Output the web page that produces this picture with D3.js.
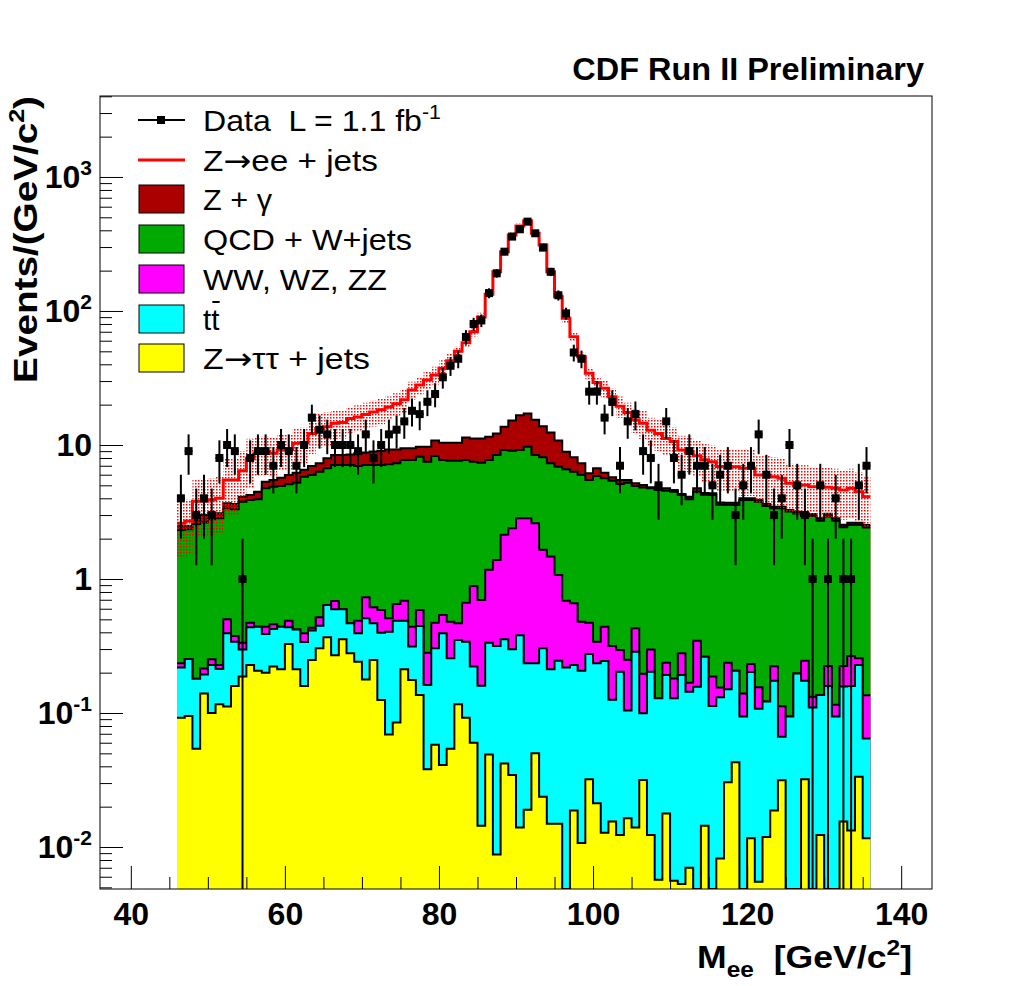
<!DOCTYPE html>
<html>
<head>
<meta charset="utf-8">
<script src="https://cdn.jsdelivr.net/npm/d3@7"></script>
<style>
  body { margin: 0; background: #fff; }
  svg { display: block; font-family: "Liberation Sans", Arial, Helvetica, sans-serif; }
</style>
</head>
<body>
<div id="chart"></div>
<script>
// M_ee histogram, 1 GeV/c^2 bins starting at 46
var massLow = 46;

var ztautau = [
  0.092, 0.095, 0.054, 0.14, 0.10, 0.116, 0.112, 0.159, 0.187, 0.228,
  0.207, 0.20, 0.222, 0.212, 0.327, 0.212, 0.159, 0.249, 0.304, 0.367,
  0.27, 0.355, 0.279, 0.241, 0.178, 0.249, 0.125, 0.069, 0.085, 0.212,
  0.176, 0.136, 0.038, 0.058, 0.041, 0.054, 0.116, 0.092, 0.060, 0.0144,
  0.049, 0.0088, 0.042, 0.0345, 0.014, 0.019, 0.05, 0.0237, 0.0149, 0.0149,
  0, 0.0187, 0.0107, 0.032, 0.0212, 0.0128, 0.0155, 0.0123, 0.0164, 0.014,
  0.0316, 0.0123, 0.0057, 0.0178, 0.0056, 0.0053, 0.0070, 0, 0.0144, 0,
  0.0082, 0.0304, 0.0429, 0, 0.0116, 0.0055, 0.0119, 0.0187, 0.0315, 0,
  0, 0.032, 0, 0.0123, 0, 0, 0.0155, 0.0133, 0.0335, 0.0116
];

var ttbar = [
  0.127, 0.158, 0.126, 0.054, 0.128, 0.097, 0.281, 0.181, 0.111, 0.208,
  0.233, 0.189, 0.202, 0.228, 0.109, 0.208, 0.18, 0.163, 0.144, 0.273,
  0.324, 0.239, 0.188, 0.152, 0.331, 0.218, 0.272, 0.335, 0.404, 0.277,
  0.137, 0.31, 0.124, 0.246, 0.352, 0.202, 0.234, 0.248, 0.162, 0.145,
  0.286, 0.307, 0.313, 0.264, 0.366, 0.216, 0.185, 0.28, 0.197, 0.23,
  0.219, 0.209, 0.196, 0.244, 0.214, 0.232, 0.11, 0.191, 0.088, 0.273,
  0.068, 0.191, 0.123, 0.174, 0.123, 0.187, 0.137, 0.157, 0.249, 0.113,
  0.123, 0.12, 0.164, 0.094, 0.191, 0.102, 0.11, 0.155, 0.035, 0.094,
  0.197, 0.142, 0.11, 0.124, 0.159, 0.094, 0.142, 0.146, 0.195, 0.053
];

var diboson = [
  0.016, 0, 0, 0.021, 0.024, 0.015, 0.107, 0.035, 0.037, 0.036,
  0, 0.051, 0.035, 0, 0.053, 0, 0.054, 0.021, 0.07, 0,
  0.091, 0, 0, 0.096, 0.221, 0.148, 0.19, 0.105, 0.161, 0.20,
  0.127, 0.141, 0.12, 0.168, 0.146, 0.224, 0.117, 0.326, 0.665, 0.538,
  0.835, 1.07, 1.78, 2.09, 2.46, 2.61, 2.37, 1.35, 1.26, 0.825,
  0.47, 0.431, 0.273, 0.196, 0.105, 0.195, 0.191, 0.092, 0.145, 0.142,
  0.097, 0.095, 0, 0.045, 0.052, 0.087, 0.024, 0.189, 0, 0.074,
  0.024, 0.087, 0, 0.046, 0.029, 0.048, 0, 0.05, 0.046, 0,
  0, 0.071, 0.022, 0, 0.065, 0.021, 0.067, 0.107, 0.028, 0.071
];

var qcdWjets = [
  2.09, 2.10, 2.39, 2.42, 2.54, 2.61, 2.87, 2.94, 3.44, 3.42,
  3.49, 4.31, 4.42, 4.50, 4.60, 4.81, 5.41, 5.54, 5.80, 6.06,
  6.42, 6.51, 6.63, 6.48, 6.37, 6.49, 6.51, 6.67, 6.65, 7.05,
  7.30, 7.58, 7.22, 7.80, 7.20, 7.16, 7.17, 7.07, 6.61, 6.68,
  6.57, 7.03, 7.03, 6.67, 6.32, 6.86, 5.82, 6.45, 5.83, 5.82,
  5.89, 5.66, 5.49, 5.01, 5.54, 5.20, 5.10, 4.82, 4.98, 4.51,
  4.63, 4.45, 4.48, 4.32, 4.30, 3.96, 3.76, 4.13, 3.98, 4.05,
  3.42, 3.33, 3.36, 3.75, 3.66, 3.62, 3.38, 3.15, 3.26, 3.09,
  2.89, 2.71, 2.82, 2.58, 2.70, 2.61, 2.21, 2.26, 2.27, 2.29
];

var zgamma = [
  0.17, 0.14, 0.19, 0.37, 0.30, 0.25, 0.30, 0.32, 0.34, 0.35,
  0.55, 0.57, 0.60, 0.76, 0.88, 0.98, 0.72, 1.0, 0.98, 1.25,
  1.32, 1.32, 1.40, 1.69, 1.67, 1.82, 1.97, 2.09, 1.97, 1.71,
  1.71, 1.53, 2.20, 2.53, 2.66, 2.76, 2.76, 3.66, 3.70, 3.82,
  3.76, 3.78, 4.54, 6.14, 7.54, 7.50, 6.98, 5.70, 5.10, 3.91,
  2.34, 1.78, 1.33, 0.66, 0.82, 0.57, 0.32, 0.37, 0.25, 0.24,
  0.20, 0.08, 0.14, 0.19, 0.13, 0.07, 0.18, 0.27, 0.13, 0.13,
  0.14, 0.14, 0.14, 0.11, 0.11, 0.12, 0.13, 0.09, 0.09, 0.09,
  0.09, 0.14, 0.10, 0.12, 0.14, 0.12, 0.10, 0.10, 0.10, 0.10
];

var zee = [
  0.11, 0.21, 1.04, 0.80, 0.81, 0.91, 1.81, 1.85, 2.32, 3.71,
  4.18, 3.45, 3.18, 3.46, 3.30, 4.09, 3.88, 5.23, 6.0, 5.75,
  6.08, 6.28, 7.3, 7.54, 8.13, 8.68, 9.23, 9.93, 11.0, 12.3,
  16.3, 18.3, 20.8, 22.5, 26.9, 32.2, 39.6, 46.6, 58.8, 78.8,
  122, 184, 263, 354, 414, 455, 365, 297, 184, 117,
  79.3, 56.2, 38.3, 28.2, 22.5, 20.3, 17.2, 14.0, 12.0, 10.2,
  9.47, 8.07, 7.45, 6.45, 5.99, 4.85, 4.81, 3.55, 3.37, 3.13,
  3.18, 3.18, 3.18, 2.70, 2.70, 2.08, 2.34, 2.34, 2.18, 1.91,
  1.85, 1.94, 1.83, 2.04, 1.77, 1.91, 2.08, 2.12, 1.85, 1.58
];

// relative uncertainty of the total prediction (red dotted band)
var zeeRelErr = [
  0.45, 0.45, 0.45, 0.45, 0.45, 0.45, 0.45, 0.45, 0.40, 0.40,
  0.32, 0.32, 0.32, 0.30, 0.30, 0.30, 0.30, 0.30, 0.28, 0.28,
  0.24, 0.24, 0.22, 0.22, 0.22, 0.22, 0.22, 0.20, 0.20, 0.20,
  0.15, 0.15, 0.15, 0.15, 0.15, 0.12, 0.08, 0.08, 0.08, 0.08,
  0.05, 0.05, 0.05, 0.05, 0.05, 0.05, 0.05, 0.05, 0.05, 0.05,
  0.08, 0.08, 0.08, 0.10, 0.10, 0.15, 0.15, 0.18, 0.18, 0.20,
  0.24, 0.24, 0.26, 0.26, 0.28, 0.28, 0.30, 0.30, 0.32, 0.32,
  0.35, 0.35, 0.35, 0.38, 0.38, 0.38, 0.40, 0.40, 0.40, 0.40,
  0.40, 0.40, 0.40, 0.40, 0.40, 0.40, 0.40, 0.40, 0.40, 0.40
];

var dataCounts = [
  4, 9, 3, 4, 3, 8, 10, 9, 1, 8,
  9, 9, 7, 10, 9, 7, 10, 16, 13, 12,
  10, 10, 10, 9, 12, 8, 10, 12, 13, 15,
  18, 17, 21, 24, 32, 39, 44, 64, 80, 85,
  136, 191, 277, 359, 407, 464, 380, 297, 196, 131,
  96, 49, 44, 25, 25, 16, 21, 7, 15, 17,
  9, 8, 5, 15, 8, 6, 9, 7, 7, 5,
  6, 7, 3, 5, 7, 12, 6, 3, 4, 10,
  5, 3, 1, 5, 1, 4, 1, 1, 5, 7
];

var xTickValues = [40, 60, 80, 100, 120, 140];
var yTickValues = [0.01, 0.1, 1, 10, 100, 1000];
var yTickBase = ["10", "10", "1", "10", "10", "10"];
var yTickExp = ["-2", "-1", "", "", "2", "3"];

var width = 1020, height = 986;
var frame = {left: 100, right: 932, top: 96, bottom: 889};

var svg = d3.select("#chart").append("svg")
    .attr("width", width)
    .attr("height", height);

var defs = svg.append("defs");
defs.append("clipPath").attr("id", "clip")
    .append("rect")
    .attr("x", frame.left).attr("y", frame.top)
    .attr("width", frame.right - frame.left).attr("height", frame.bottom - frame.top);
var pat = defs.append("pattern").attr("id", "dots")
    .attr("width", 3).attr("height", 3)
    .attr("patternUnits", "userSpaceOnUse");
pat.append("rect").attr("x", 0).attr("y", 0).attr("width", 1.5).attr("height", 1.5).attr("fill", "#ff0000");

var x = d3.scaleLinear().domain([36, 144]).range([frame.left, frame.right]);
var y = d3.scaleLog().domain([0.00486, 4020]).range([frame.bottom, frame.top]).clamp(true);

function yPos(v) {
    return v > 0 ? y(v) : frame.bottom;
}

var rows = ztautau.map(function(v, i) {
    return {
        lo: massLow + i, hi: massLow + i + 1,
        ztautau: v, ttbar: ttbar[i], diboson: diboson[i],
        qcd: qcdWjets[i], zgamma: zgamma[i], zee: zee[i]
    };
});

var keys = ["ztautau", "ttbar", "diboson", "qcd", "zgamma", "zee"];
var stacked = d3.stack().keys(keys)(rows);

var colours = {
    ztautau: "#ffff00",
    ttbar: "#00ffff",
    diboson: "#ff00ff",
    qcd: "#00aa00",
    zgamma: "#aa0000"
};

function stepPoints(series) {
    var pts = [];
    series.forEach(function(d) {
        pts.push([x(d.data.lo), yPos(d[1])]);
        pts.push([x(d.data.hi), yPos(d[1])]);
    });
    return pts;
}

var plot = svg.append("g").attr("clip-path", "url(#clip)");

var fillArea = d3.area()
    .x(function(d) { return d[0]; })
    .y0(frame.bottom)
    .y1(function(d) { return d[1]; });
var stepLine = d3.line();

// stack drawn from the largest cumulative histogram down, like THStack
stacked.slice(0, 5).reverse().forEach(function(s) {
    var pts = stepPoints(s);
    plot.append("path")
        .attr("d", fillArea(pts))
        .attr("fill", colours[s.key]);
    plot.append("path")
        .attr("d", stepLine(pts))
        .attr("fill", "none")
        .attr("stroke", "#000")
        .attr("stroke-width", 2);
});

// total prediction with Z->ee on top: dotted error band + red line
var total = stacked[5];
var bandPts = [];
total.forEach(function(d, i) {
    var t = d[1], e = t * zeeRelErr[i];
    bandPts.push({x: x(d.data.lo), lo: yPos(t - e), hi: yPos(t + e)});
    bandPts.push({x: x(d.data.hi), lo: yPos(t - e), hi: yPos(t + e)});
});
plot.append("path")
    .attr("d", d3.area()
        .x(function(d) { return d.x; })
        .y0(function(d) { return d.lo; })
        .y1(function(d) { return d.hi; })(bandPts))
    .attr("fill", "url(#dots)");

plot.append("path")
    .attr("d", stepLine(stepPoints(total)))
    .attr("fill", "none")
    .attr("stroke", "#ff0000")
    .attr("stroke-width", 3);

// data points with Poisson errors
var points = dataCounts.map(function(n, i) {
    return {m: massLow + i + 0.5, lo: massLow + i, hi: massLow + i + 1, n: n};
});

plot.selectAll(".errbar")
    .data(points)
    .enter().append("line")
    .attr("class", "errbar")
    .attr("x1", function(d) { return x(d.m); })
    .attr("x2", function(d) { return x(d.m); })
    .attr("y1", function(d) { return yPos(d.n - Math.sqrt(d.n)); })
    .attr("y2", function(d) { return yPos(d.n + Math.sqrt(d.n)); })
    .attr("stroke", "#000")
    .attr("stroke-width", 2);

plot.selectAll(".xbar")
    .data(points)
    .enter().append("line")
    .attr("class", "xbar")
    .attr("x1", function(d) { return x(d.lo); })
    .attr("x2", function(d) { return x(d.hi); })
    .attr("y1", function(d) { return yPos(d.n); })
    .attr("y2", function(d) { return yPos(d.n); })
    .attr("stroke", "#000")
    .attr("stroke-width", 2);

plot.selectAll(".marker")
    .data(points)
    .enter().append("rect")
    .attr("class", "marker")
    .attr("x", function(d) { return x(d.m) - 4; })
    .attr("y", function(d) { return yPos(d.n) - 4; })
    .attr("width", 8)
    .attr("height", 8)
    .attr("fill", "#000");

// frame
svg.append("rect")
    .attr("x", frame.left).attr("y", frame.top)
    .attr("width", frame.right - frame.left).attr("height", frame.bottom - frame.top)
    .attr("fill", "none")
    .attr("stroke", "#000")
    .attr("stroke-width", 1);

// axes, ticks pointing inside the frame
var xMinor = d3.range(40, 145, 5).filter(function(v) { return v % 20 !== 0; });
svg.append("g")
    .attr("transform", "translate(0," + frame.bottom + ")")
    .call(d3.axisBottom(x).tickValues(xMinor).tickSize(-12).tickFormat(""))
    .call(function(g) { g.select(".domain").remove(); });

svg.append("g")
    .attr("transform", "translate(0," + frame.bottom + ")")
    .call(d3.axisBottom(x).tickValues(xTickValues).tickSize(-23).tickPadding(13).tickFormat(d3.format("d")))
    .call(function(g) { g.select(".domain").remove(); })
    .attr("font-family", null)
    .attr("font-size", 32)
    .attr("font-weight", "bold");

var yMinor = [];
for (var k = -3; k <= 3; k++) {
    for (var m = 2; m <= 9; m++) {
        var v = m * Math.pow(10, k);
        if (v > y.domain()[0] && v < y.domain()[1]) yMinor.push(v);
    }
}
svg.append("g")
    .attr("transform", "translate(" + frame.left + ",0)")
    .call(d3.axisLeft(y).tickValues(yMinor).tickSize(-12).tickFormat(""))
    .call(function(g) { g.select(".domain").remove(); });
svg.append("g")
    .attr("transform", "translate(" + frame.left + ",0)")
    .call(d3.axisLeft(y).tickValues(yTickValues).tickSize(-23).tickFormat(""))
    .call(function(g) { g.select(".domain").remove(); });

var yLabels = svg.append("g")
    .attr("font-size", 32)
    .attr("font-weight", "bold")
    .attr("text-anchor", "end");
yTickValues.forEach(function(v, i) {
    var t = yLabels.append("text")
        .attr("x", frame.left - 8)
        .attr("y", y(v) + 11);
    t.append("tspan").text(yTickBase[i]);
    if (yTickExp[i]) {
        t.append("tspan").attr("dy", -13).attr("font-size", 21).text(yTickExp[i]);
    }
});

// stretch a text node horizontally to a measured width
function fitWidth(sel, target) {
    var w = sel.node().getBBox().width;
    return target / w;
}

// title
var title = svg.append("text")
    .attr("text-anchor", "end")
    .attr("font-size", 32)
    .attr("font-weight", "bold")
    .text("CDF Run II Preliminary");
title.attr("transform", "translate(924,80) scale(" + fitWidth(title, 352) + ",1)");

// y axis title
var yTitle = svg.append("text")
    .attr("text-anchor", "end")
    .attr("font-size", 34)
    .attr("font-weight", "bold");
yTitle.append("tspan").text("Events/(GeV/c");
yTitle.append("tspan").attr("dy", -13).attr("font-size", 22).text("2");
yTitle.append("tspan").attr("dy", 13).text(")");
yTitle.attr("transform", "translate(37,96) rotate(-90) scale(" + fitWidth(yTitle, 287) + ",1)");

// x axis title
var xTitle = svg.append("text")
    .attr("text-anchor", "end")
    .attr("font-size", 32)
    .attr("font-weight", "bold")
    .style("white-space", "pre");
xTitle.append("tspan").text("M");
xTitle.append("tspan").attr("dy", 9).attr("font-size", 22).text("ee");
xTitle.append("tspan").attr("dy", -9).text("  [GeV/c");
xTitle.append("tspan").attr("dy", -13).attr("font-size", 22).text("2");
xTitle.append("tspan").attr("dy", 13).text("]");
xTitle.attr("transform", "translate(912,968) scale(" + fitWidth(xTitle, 215) + ",1)");

// legend
var legendY = [120, 160, 199, 239, 279, 319, 358];
var legendKeys = ["data", "zee", "zgamma", "qcd", "diboson", "ttbar", "ztautau"];
var legendWidths = [238, 175, 69, 209, 184, 17, 167];
var legend = svg.append("g");

function arrowLabel(t, before, after) {
    t.append("tspan").text(before);
    t.append("tspan").attr("font-family", "DejaVu Sans").text("\u2192");
    t.append("tspan").text(after);
}

legendKeys.forEach(function(key, i) {
    var cy = legendY[i];
    if (key === "data") {
        legend.append("line").attr("x1", 138).attr("x2", 185).attr("y1", cy).attr("y2", cy)
            .attr("stroke", "#000").attr("stroke-width", 2);
        legend.append("rect").attr("x", 157).attr("y", cy - 4).attr("width", 8).attr("height", 8).attr("fill", "#000");
    } else if (key === "zee") {
        legend.append("line").attr("x1", 138).attr("x2", 185).attr("y1", cy).attr("y2", cy)
            .attr("stroke", "#ff0000").attr("stroke-width", 3);
    } else {
        legend.append("rect").attr("x", 139).attr("y", cy - 14).attr("width", 45).attr("height", 28)
            .attr("fill", colours[key]).attr("stroke", "#000").attr("stroke-width", 1);
    }

    var t = legend.append("text")
        .attr("font-size", 30)
        .style("white-space", "pre");
    if (key === "data") {
        t.append("tspan").text("Data  L = 1.1 fb");
        t.append("tspan").attr("dy", -12).attr("font-size", 20).text("-1");
    } else if (key === "zee") {
        arrowLabel(t, "Z", "ee + jets");
    } else if (key === "zgamma") {
        t.text("Z + \u03b3");
    } else if (key === "qcd") {
        t.text("QCD + W+jets");
    } else if (key === "diboson") {
        t.text("WW, WZ, ZZ");
    } else if (key === "ttbar") {
        t.text("tt");
    } else {
        arrowLabel(t, "Z", "\u03c4\u03c4 + jets");
    }
    var s = fitWidth(t, legendWidths[i]);
    t.attr("transform", "translate(203," + (cy + 11) + ") scale(" + s + ",1)");

    if (key === "ttbar") {
        legend.append("line")
            .attr("x1", 203 + legendWidths[i] * 0.55).attr("x2", 203 + legendWidths[i] * 0.98)
            .attr("y1", cy - 17).attr("y2", cy - 17)
            .attr("stroke", "#000").attr("stroke-width", 2);
    }
});
</script>
</body>
</html>
